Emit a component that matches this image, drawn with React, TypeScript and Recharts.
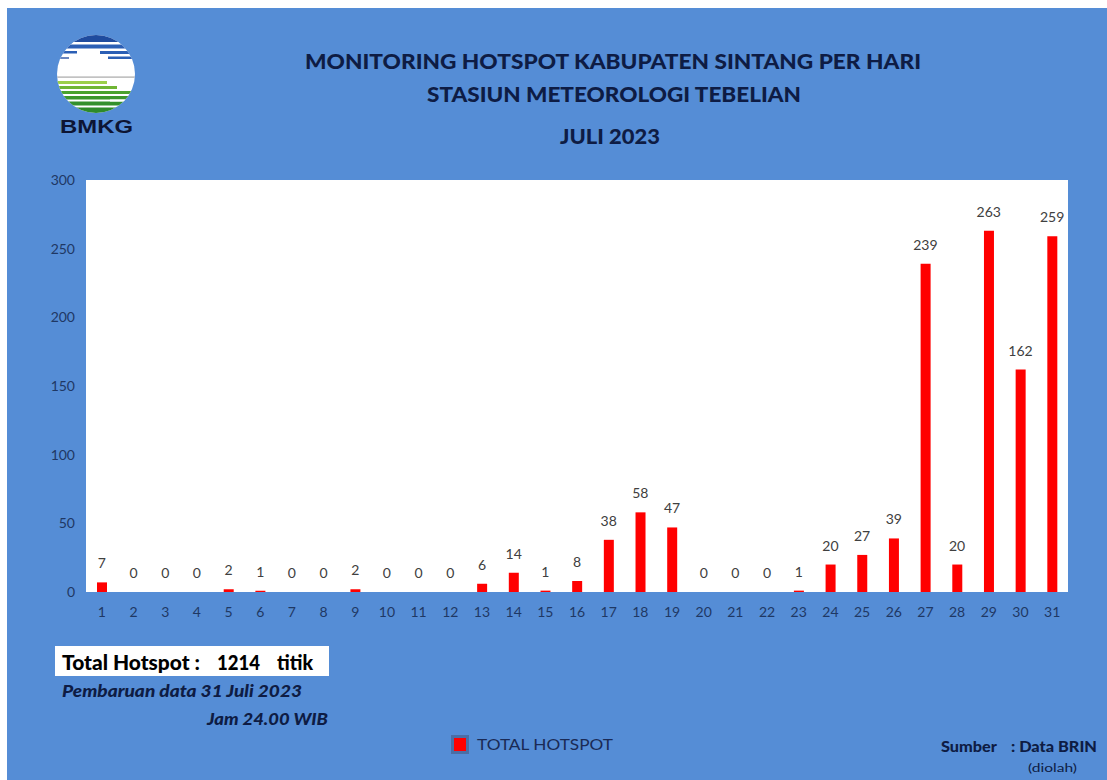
import React from 'react';
import { ComposedChart, Bar, Line, XAxis, YAxis, CartesianGrid, LabelList, Legend } from 'recharts';

// Daily hotspot counts, Kabupaten Sintang, July 2023
const days: string[] = [
  '1', '2', '3', '4', '5', '6', '7', '8', '9', '10', '11', '12', '13', '14', '15', '16',
  '17', '18', '19', '20', '21', '22', '23', '24', '25', '26', '27', '28', '29', '30', '31',
];
const hotspots: number[] = [
  7, 0, 0, 0, 2, 1, 0, 0, 2, 0, 0, 0, 6, 14, 1, 8,
  38, 58, 47, 0, 0, 0, 1, 20, 27, 39, 239, 20, 263, 162, 259,
];
const yTicks: number[] = [0, 50, 100, 150, 200, 250, 300];

const titleLines: string[] = [
  'MONITORING HOTSPOT KABUPATEN SINTANG PER HARI',
  'STASIUN METEOROLOGI TEBELIAN',
  'JULI 2023',
];

const seriesName = 'TOTAL HOTSPOT';

const data = days.map((d, i) => ({ day: d, hotspot: hotspots[i] }));
const total = hotspots.reduce((a, b) => a + b, 0);

const W = 1107;
const H = 780;
const BG = '#558dd6';
const NAVY = '#0e1c44';
const FONT = 'Lato, "Open Sans", sans-serif';
const LEGEND_H = 24;

function Logo() {
  return (
    <g>
      <defs>
        <clipPath id="bmkgCircle">
          <circle cx={96} cy={74} r={39} />
        </clipPath>
      </defs>
      <g clipPath="url(#bmkgCircle)">
        <rect x={57} y={35} width={78} height={78} fill="#ffffff" />
        <rect x={57} y={35} width={78} height={7} fill="#1f4b9e" />
        <rect x={57} y={44.5} width={78} height={4} fill="#2b5fb5" />
        <rect x={57} y={51} width={20} height={2.5} fill="#2b5fb5" />
        <rect x={100} y={51} width={35} height={3} fill="#2b5fb5" />
        <rect x={108} y={56.5} width={27} height={2.5} fill="#2b5fb5" />
        <rect x={57} y={57} width={12} height={2} fill="#6a86c0" />
        <rect x={57} y={76.5} width={78} height={1.2} fill="#a8a8a8" />
        <rect x={57} y={81} width={50} height={3} fill="#9bcf4a" />
        <rect x={57} y={86} width={60} height={3} fill="#6fb534" />
        <rect x={57} y={91} width={78} height={3} fill="#4aa22e" />
        <rect x={57} y={96} width={78} height={3.5} fill="#3b962c" />
        <rect x={57} y={101.5} width={78} height={4} fill="#33902c" />
        <rect x={57} y={107.5} width={78} height={6} fill="#2e8a2a" />
        <rect x={110} y={99.5} width={25} height={2} fill="#ffffff" />
      </g>
      <text
        x={60}
        y={133}
        textLength={73}
        lengthAdjust="spacingAndGlyphs"
        fontFamily='"Liberation Sans", Arial, sans-serif'
        fontWeight={700}
        fontSize={19}
        fill="#0d1533"
      >
        BMKG
      </text>
    </g>
  );
}

function Overlay() {
  return (
    <svg
      width={W}
      height={H}
      style={{ position: 'absolute', left: 0, top: 0, pointerEvents: 'none' }}
    >
      <Logo />
      <text x={305} y={69} textLength={616} lengthAdjust="spacingAndGlyphs"
        fontFamily={FONT} fontWeight={900} fontSize={20} fill={NAVY}>
        {titleLines[0]}
      </text>
      <text x={427} y={102} textLength={374} lengthAdjust="spacingAndGlyphs"
        fontFamily={FONT} fontWeight={900} fontSize={20} fill={NAVY}>
        {titleLines[1]}
      </text>
      <text x={560} y={144} textLength={100} lengthAdjust="spacingAndGlyphs"
        fontFamily={FONT} fontWeight={900} fontSize={20} fill={NAVY}>
        {titleLines[2]}
      </text>

      <rect x={55} y={646} width={274} height={30} fill="#ffffff" />
      <text x={62} y={670} textLength={138} lengthAdjust="spacingAndGlyphs"
        fontFamily={FONT} fontWeight={900} fontSize={20} fill="#000000">
        Total Hotspot :
      </text>
      <text x={217} y={670} textLength={43} lengthAdjust="spacingAndGlyphs"
        fontFamily={FONT} fontWeight={900} fontSize={20} fill="#000000">
        {String(total)}
      </text>
      <text x={277} y={670} textLength={36} lengthAdjust="spacingAndGlyphs"
        fontFamily={FONT} fontWeight={900} fontSize={20} fill="#000000">
        titik
      </text>

      <text x={62} y={697} textLength={240} lengthAdjust="spacingAndGlyphs"
        fontFamily={FONT} fontWeight={900} fontStyle="italic" fontSize={17} fill={NAVY}>
        Pembaruan data 31 Juli 2023
      </text>
      <text x={207} y={725} textLength={121} lengthAdjust="spacingAndGlyphs"
        fontFamily={FONT} fontWeight={900} fontStyle="italic" fontSize={17} fill={NAVY}>
        Jam 24.00 WIB
      </text>

      <text x={941} y={752} textLength={56} lengthAdjust="spacingAndGlyphs"
        fontFamily={FONT} fontWeight={900} fontSize={15} fill={NAVY}>
        Sumber
      </text>
      <text x={1011} y={752} textLength={86} lengthAdjust="spacingAndGlyphs"
        fontFamily={FONT} fontWeight={900} fontSize={15} fill={NAVY}>
        : Data BRIN
      </text>
      <text x={1028} y={772} textLength={49} lengthAdjust="spacingAndGlyphs"
        fontFamily={FONT} fontSize={12} fill={NAVY}>
        (diolah)
      </text>
    </svg>
  );
}

function LegendContent() {
  return (
    <svg width={170} height={LEGEND_H} style={{ display: 'block' }}>
      <rect x={1.5} y={2.5} width={15} height={16} fill="#ff0000" stroke="#4b6ea6" strokeWidth={3} />
      <text x={26} y={16} textLength={136} lengthAdjust="spacingAndGlyphs"
        fontFamily={FONT} fontSize={15} fill="#1a2a55">
        {seriesName}
      </text>
    </svg>
  );
}

export default function App() {
  return (
    <div style={{ position: 'absolute', left: 0, top: 0, width: W, height: H, background: '#ffffff', overflow: 'hidden' }}>
      <div style={{ position: 'absolute', left: 7, top: 8, width: W - 7, height: H - 8, background: BG }} />
      <div style={{ position: 'absolute', left: 0, top: 0 }}>
        <ComposedChart
          width={W}
          height={H}
          data={data}
          margin={{ top: 180, right: 39, bottom: 158 - LEGEND_H, left: 56 }}
        >
          <CartesianGrid stroke="none" fill="#ffffff" />
          <XAxis
            dataKey="day"
            height={30}
            axisLine={false}
            tickLine={false}
            tickMargin={9}
            interval={0}
            tick={{ fill: '#1f3864', fontSize: 14, fontFamily: FONT }}
          />
          <YAxis
            width={30}
            domain={[0, 300]}
            ticks={yTicks}
            axisLine={false}
            tickLine={false}
            tickMargin={5}
            tick={{ fill: '#1f3864', fontSize: 14, fontFamily: FONT }}
          />
          <Legend
            content={() => <LegendContent />}
            wrapperStyle={{ position: 'absolute', left: 451, top: 734, width: 170, height: LEGEND_H }}
          />
          <Bar dataKey="hotspot" name={seriesName} fill="#ff0000" barSize={10} isAnimationActive={false} />
          {/* value labels for every day, zeros included */}
          <Line
            dataKey="hotspot"
            stroke="none"
            dot={false}
            activeDot={false}
            legendType="none"
            isAnimationActive={false}
          >
            <LabelList
              dataKey="hotspot"
              position="top"
              offset={14}
              fill="#404040"
              fontSize={14}
              fontFamily={FONT}
            />
          </Line>
        </ComposedChart>
      </div>
      <Overlay />
    </div>
  );
}
